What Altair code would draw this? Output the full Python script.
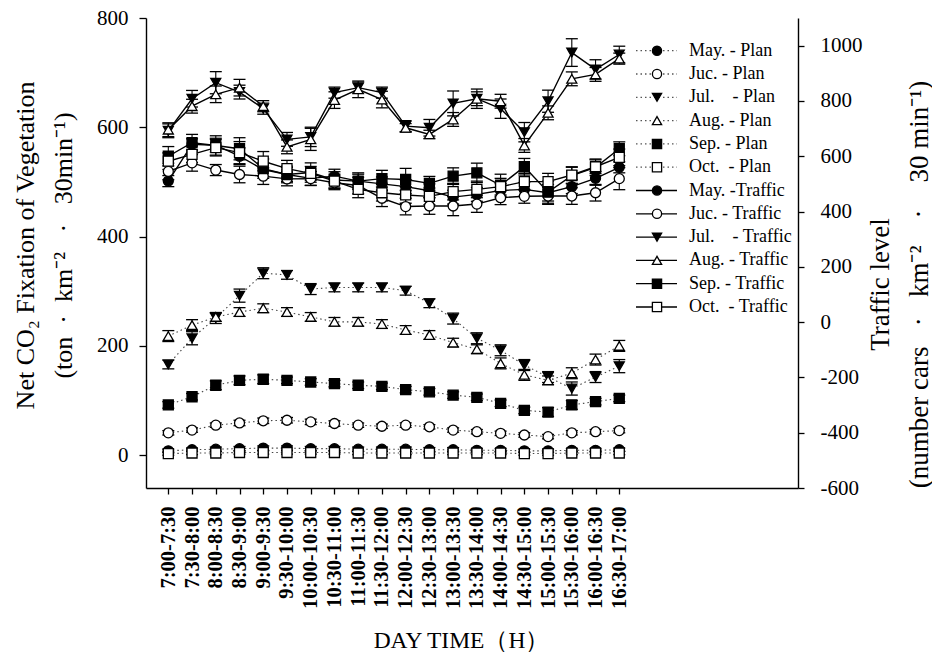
import altair as alt
import pandas as pd

# ---------------- data ----------------
time_labels = ["7:00-7:30", "7:30-8:00", "8:00-8:30", "8:30-9:00", "9:00-9:30",
               "9:30-10:00", "10:00-10:30", "10:30-11:00", "11:00-11:30", "11:30-12:00",
               "12:00-12:30", "12:30-13:00", "13:00-13:30", "13:30-14:00", "14:00-14:30",
               "14:30-15:00", "15:00-15:30", "15:30-16:00", "16:00-16:30", "16:30-17:00"]
months = ["May.", "Juc.", "Jul.", "Aug.", "Sep.", "Oct."]

# Net CO2 fixation of vegetation (left axis) -- "Plan"
plan_may = [8, 10, 11, 12, 13, 13, 12, 12, 11, 11, 11, 10, 10, 9, 9, 8, 8, 9, 9, 10]
plan_juc = [41, 46, 55, 59, 63, 64, 61, 58, 55, 53, 55, 52, 46, 43, 40, 37, 34, 41, 43, 45]
plan_jul = [166, 214, 251, 292, 333, 330, 304, 307, 307, 307, 301, 278, 250, 214, 192, 165, 143, 122, 143, 163]
plan_aug = [218, 238, 253, 262, 269, 262, 253, 244, 244, 240, 229, 220, 206, 194, 168, 147, 137, 150, 175, 200]
plan_sep = [92, 107, 128, 137, 139, 137, 134, 131, 128, 126, 120, 116, 110, 106, 95, 82, 79, 92, 98, 104]
plan_oct = [3, 4, 4, 5, 5, 5, 5, 5, 4, 4, 4, 4, 4, 4, 4, 3, 3, 4, 4, 4]

plan_err_may = [3, 3, 4, 4, 4, 4, 4, 4, 4, 4, 4, 4, 4, 3, 3, 3, 3, 3, 3, 3]
plan_err_juc = [4, 4, 4, 5, 5, 5, 5, 5, 4, 4, 4, 4, 4, 4, 4, 4, 4, 4, 4, 4]
plan_err_jul = [8, 12, 10, 12, 10, 8, 10, 8, 8, 8, 8, 8, 10, 10, 10, 10, 10, 12, 10, 12]
plan_err_aug = [10, 10, 8, 8, 8, 8, 8, 8, 8, 8, 8, 8, 8, 8, 10, 10, 8, 10, 10, 10]
plan_err_sep = [6, 6, 8, 8, 8, 6, 6, 6, 6, 6, 6, 6, 6, 6, 6, 6, 8, 8, 6, 6]
plan_err_oct = [3, 3, 3, 3, 3, 3, 3, 3, 3, 3, 3, 3, 3, 3, 3, 3, 3, 3, 3, 3]

# Traffic level (right axis)
traf_may = [510, 643, 640, 600, 552, 534, 520, 528, 510, 500, 490, 475, 452, 462, 476, 480, 468, 490, 520, 560]
traf_juc = [545, 576, 550, 534, 528, 518, 519, 504, 494, 448, 418, 420, 420, 427, 450, 455, 456, 456, 468, 519]
traf_jul = [692, 808, 866, 832, 772, 661, 670, 830, 848, 830, 709, 703, 791, 808, 772, 687, 799, 975, 914, 968]
traf_aug = [696, 781, 824, 848, 781, 634, 661, 803, 842, 805, 703, 679, 733, 808, 799, 639, 757, 880, 896, 953]
traf_sep = [600, 649, 639, 627, 555, 534, 541, 514, 510, 519, 516, 502, 528, 540, 495, 562, 470, 530, 560, 627]
traf_oct = [582, 607, 631, 613, 582, 555, 538, 510, 480, 468, 460, 455, 472, 480, 490, 508, 508, 532, 562, 596]

traf_err_may = [20, 20, 25, 30, 25, 25, 25, 25, 25, 25, 25, 25, 25, 25, 25, 25, 30, 25, 25, 20]
traf_err_juc = [30, 30, 20, 30, 30, 25, 25, 25, 30, 30, 30, 30, 35, 30, 25, 25, 30, 30, 30, 40]
traf_err_jul = [25, 30, 40, 25, 20, 25, 35, 20, 20, 20, 20, 30, 45, 35, 35, 35, 40, 50, 35, 30]
traf_err_aug = [25, 25, 30, 30, 20, 25, 40, 30, 30, 30, 15, 15, 25, 25, 25, 25, 25, 25, 25, 20]
traf_err_sep = [35, 30, 35, 40, 35, 30, 35, 30, 30, 30, 40, 25, 30, 35, 40, 30, 40, 30, 30, 25]
traf_err_oct = [30, 30, 30, 40, 35, 30, 25, 25, 30, 30, 30, 30, 30, 30, 30, 30, 30, 30, 25, 30]

NB = "\u00a0"
legend_names = ["May. - Plan", "Juc. - Plan", f"Jul.{NB*3} - Plan", "Aug. - Plan",
                "Sep. - Plan", f"Oct.{NB} - Plan",
                "May. -Traffic", "Juc. - Traffic", f"Jul.{NB*3} - Traffic", "Aug. - Traffic",
                "Sep. - Traffic", f"Oct.{NB} - Traffic"]
legend_kinds = ["Plan"] * 6 + ["Traffic"] * 6


def long_table(vals, errs):
    rows = []
    for m, v, e in zip(months, vals, errs):
        for i, (a, b) in enumerate(zip(v, e)):
            rows.append({"idx": i, "val": a, "lo": a - b, "hi": a + b, "month": m})
    return pd.DataFrame(rows)


plan_df = long_table([plan_may, plan_juc, plan_jul, plan_aug, plan_sep, plan_oct],
                     [plan_err_may, plan_err_juc, plan_err_jul, plan_err_aug, plan_err_sep, plan_err_oct])
traf_df = long_table([traf_may, traf_juc, traf_jul, traf_aug, traf_sep, traf_oct],
                     [traf_err_may, traf_err_juc, traf_err_jul, traf_err_aug, traf_err_sep, traf_err_oct])
legend_df = pd.DataFrame({"series": legend_names, "kind": legend_kinds})

# ---------------- styles ----------------
SERIF = "Liberation Serif"
shape_range = ["circle", "circle", "triangle-down", "triangle-up", "square", "square"]
fill_range = ["black", "white", "black", "white", "black", "white"]
MARK_SIZE = 100

label_expr = "[" + ",".join(f"'{t}'" for t in time_labels) + "][datum.value]"

x_enc = alt.X("idx:Q",
              scale=alt.Scale(domain=[-0.94, 26.53], nice=False, zero=False),
              axis=alt.Axis(values=list(range(20)), labelExpr=label_expr, labelAngle=270,
                            labelFont=SERIF, labelFontWeight="bold", labelFontSize=20.5,
                            labelOverlap=False, labelFlush=False, labelPadding=12, tickSize=6,
                            grid=False, title="DAY TIME（H）", titleFont=SERIF,
                            titleFontSize=23.5, titleFontWeight="normal",
                            titleX=315, titleY=152, titleAlign="center", titleBaseline="middle"))

left_axis = alt.Axis(orient="left", values=[0, 200, 400, 600, 800], labelExpr="'' + datum.value",
                     labelFont=SERIF, labelFontSize=21, labelPadding=11, tickSize=7, grid=False,
                     title=["Net CO\u2082 Fixation of Vegetation",
                            f"(ton{NB}{NB}\u00b7{NB}{NB}km\u207b\u00b2{NB}{NB}{NB}\u00b7{NB}{NB}{NB}30min\u207b\u00b9)"],
                     titleFont=SERIF, titleFontSize=26, titleFontWeight="normal",
                     titleAngle=270, titleAlign="center", titleBaseline="middle",
                     titleLineHeight=38, titleX=-121, titleY=227)
right_axis = alt.Axis(orient="right", values=list(range(-600, 1001, 200)),
                      labelExpr="'' + datum.value",
                      labelFont=SERIF, labelFontSize=21, labelPadding=16, tickSize=6, grid=False,
                      title=["Traffic level",
                             f"(number cars{NB}{NB}{NB}\u00b7{NB}{NB}{NB}km\u207b\u00b2{NB}{NB}{NB}{NB}\u00b7{NB}{NB}{NB}{NB}30 min\u207b\u00b9)"],
                      titleFont=SERIF, titleFontSize=27, titleFontWeight="normal",
                      titleAngle=270, titleAlign="center", titleBaseline="middle",
                      titleLineHeight=39, titleX=82, titleY=266)

left_scale = alt.Scale(domain=[-60, 800], nice=False, zero=False)
right_scale = alt.Scale(domain=[-600, 1100], nice=False, zero=False)


def group(df, scale, axis, dash, line_w, line_color):
    base = alt.Chart(df)
    yv = alt.Y("val:Q", scale=scale, axis=axis)
    line_kwargs = dict(color=line_color, strokeWidth=line_w)
    if dash:
        line_kwargs["strokeDash"] = dash
    line = base.mark_line(**line_kwargs).encode(x=x_enc, y=yv, detail="month:N")
    rule = base.mark_rule(color="black", strokeWidth=1.1).encode(
        x=x_enc, y=alt.Y("lo:Q", scale=scale, axis=axis), y2="hi:Q")
    cap_lo = base.mark_tick(orient="horizontal", size=12, thickness=1.3, color="black",
                            opacity=1).encode(x=x_enc, y=alt.Y("lo:Q", scale=scale, axis=axis))
    cap_hi = base.mark_tick(orient="horizontal", size=12, thickness=1.3, color="black",
                            opacity=1).encode(x=x_enc, y=alt.Y("hi:Q", scale=scale, axis=axis))
    pts = base.mark_point(size=MARK_SIZE, stroke="black", strokeWidth=1.3, opacity=1).encode(
        x=x_enc, y=yv,
        shape=alt.Shape("month:N", scale=alt.Scale(domain=months, range=shape_range), legend=None),
        fill=alt.Fill("month:N", scale=alt.Scale(domain=months, range=fill_range), legend=None))
    return alt.layer(line, rule, cap_lo, cap_hi, pts)


plan_layer = group(plan_df, left_scale, left_axis, [1.5, 3], 1.1, "#444444")
traf_layer = group(traf_df, right_scale, right_axis, None, 1.4, "black")

# ---------------- legend (drawn inside the plot, right side) ----------------
leg_y = alt.Y("series:N", scale=alt.Scale(type="point", domain=legend_names, range=[32.7, 289.0],
                                          padding=0), axis=None)
leg_base = alt.Chart(legend_df)
leg_line = leg_base.mark_rule(strokeWidth=1.3).encode(
    x=alt.value(490), x2=alt.value(531), y=leg_y,
    color=alt.Color("kind:N", scale=alt.Scale(domain=["Plan", "Traffic"], range=["#555555", "black"]),
                    legend=None),
    strokeDash=alt.StrokeDash("kind:N", scale=alt.Scale(domain=["Plan", "Traffic"],
                                                        range=[[1.5, 3], [1, 0]]), legend=None))
leg_pts = leg_base.mark_point(size=85, stroke="black", strokeWidth=1.3, opacity=1).encode(
    x=alt.value(511), y=leg_y,
    shape=alt.Shape("series:N", scale=alt.Scale(domain=legend_names, range=shape_range * 2), legend=None),
    fill=alt.Fill("series:N", scale=alt.Scale(domain=legend_names, range=fill_range * 2), legend=None))
leg_text = leg_base.mark_text(align="left", baseline="middle", font=SERIF, fontSize=18,
                              color="black").encode(x=alt.value(543), y=leg_y, text="series:N")
legend_layer = alt.layer(leg_line, leg_pts, leg_text)

chart = alt.layer(plan_layer, traf_layer, legend_layer).resolve_scale(
    y="independent", shape="independent", fill="independent"
).properties(
    width=652, height=470,
    autosize=alt.AutoSizeParams(type="none"),
    padding={"left": 146, "top": 18, "right": 134, "bottom": 167},
    background="white",
).configure_view(stroke=None).configure_axis(
    domainColor="black", tickColor="black", labelColor="black", titleColor="black",
    domainWidth=1.4, tickWidth=1.3
)

chart.save("out.html", embed_options={"renderer": "svg", "actions": False})
